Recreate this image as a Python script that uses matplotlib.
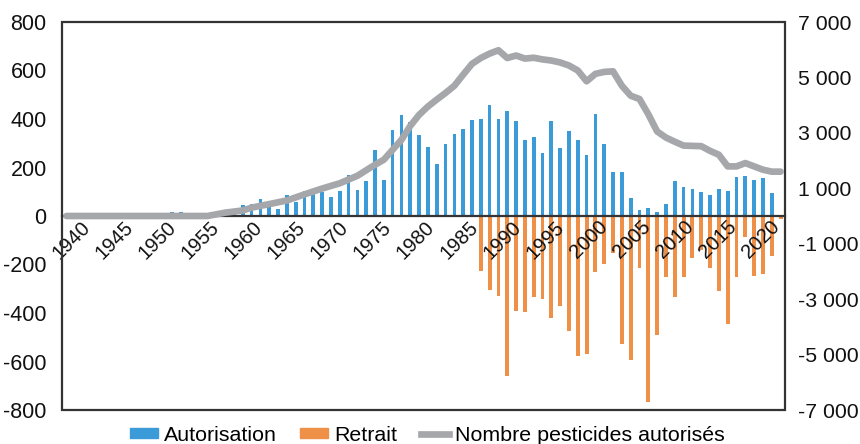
import matplotlib
matplotlib.use("Agg")
import matplotlib.pyplot as plt
from matplotlib.patches import Rectangle, Patch
from matplotlib.lines import Line2D
import numpy as np

plt.rcParams['font.family'] = ['Liberation Sans', 'DejaVu Sans']

years = list(range(1939, 2021))

autorisation = {
    1951: 17, 1952: 17, 1957: 8, 1958: 20, 1959: 44, 1960: 51, 1961: 69, 1962: 37, 1963: 30,
    1964: 86, 1965: 58, 1966: 104, 1967: 113, 1968: 100, 1969: 79, 1970: 104, 1971: 171,
    1972: 109, 1973: 144, 1974: 272, 1975: 148, 1976: 353, 1977: 415, 1978: 387, 1979: 332,
    1980: 286, 1981: 216, 1982: 297, 1983: 337, 1984: 359, 1985: 396, 1986: 402, 1987: 457,
    1988: 402, 1989: 431, 1990: 393, 1991: 314, 1992: 324, 1993: 259, 1994: 393, 1995: 279,
    1996: 349, 1997: 314, 1998: 252, 1999: 422, 2000: 297, 2001: 183, 2002: 183, 2003: 75,
    2004: 24, 2005: 34, 2006: 17, 2007: 51, 2008: 144, 2009: 120, 2010: 111, 2011: 100,
    2012: 86, 2013: 113, 2014: 104, 2015: 159, 2016: 166, 2017: 148, 2018: 155, 2019: 93,
}

retrait = {
    1980: -5, 1983: -5,
    1986: -225, 1987: -304, 1988: -329, 1989: -661, 1990: -391, 1991: -395, 1992: -333,
    1993: -343, 1994: -419, 1995: -373, 1996: -474, 1997: -578, 1998: -571, 1999: -232,
    2000: -198, 2001: -152, 2002: -526, 2003: -595, 2004: -214, 2005: -765, 2006: -492,
    2007: -253, 2008: -333, 2009: -253, 2010: -174, 2011: -140, 2012: -214, 2013: -311,
    2014: -447, 2015: -253, 2016: -87, 2017: -246, 2018: -239, 2019: -163, 2020: -14,
}

nombre = {
    1939: 0, 1955: 0, 1957: 120, 1959: 200, 1960: 300, 1962: 430, 1964: 560, 1966: 780,
    1968: 990, 1970: 1180, 1972: 1450, 1974: 1850, 1975: 2030, 1976: 2390, 1977: 2750,
    1978: 3250, 1979: 3650, 1980: 3950, 1981: 4200, 1982: 4440, 1983: 4700, 1984: 5100,
    1985: 5490, 1986: 5700, 1987: 5860, 1988: 5980, 1989: 5700, 1990: 5790, 1991: 5680,
    1992: 5710, 1993: 5650, 1994: 5610, 1995: 5540, 1996: 5430, 1997: 5250, 1998: 4860,
    1999: 5130, 2000: 5200, 2001: 5220, 2002: 4700, 2003: 4340, 2004: 4220, 2005: 3670,
    2006: 3050, 2007: 2830, 2008: 2680, 2009: 2540, 2010: 2530, 2011: 2520, 2012: 2350,
    2013: 2210, 2014: 1790, 2015: 1790, 2016: 1910, 2017: 1790, 2018: 1670, 2019: 1600,
    2020: 1600,
}

tick_years = list(range(1940, 2021, 5))
left_ticks = list(range(-800, 801, 200))
right_ticks = list(range(-7000, 7001, 2000))

blue = '#3b9ad8'
orange = '#ee9048'
grey = '#a5a7aa'

fig = plt.figure(figsize=(8.6, 4.44), dpi=100)
ax = fig.add_axes([62 / 860, 1 - 410 / 444, (785 - 62) / 860, (410 - 22) / 444])

a_vals = [autorisation.get(y, 0) for y in years]
r_vals = [retrait.get(y, 0) for y in years]
ax.bar(years, a_vals, width=0.42, color=blue, zorder=1)
ax.bar(years, r_vals, width=0.44, color=orange, zorder=1)
ax.set_ylim(-800, 800)
ax.set_xlim(years[0] - 0.5, years[-1] + 0.5)
ax.set_yticks(left_ticks)
ax.set_yticklabels([str(v) for v in left_ticks])
ax.tick_params(axis='y', length=0, labelsize=15.5, pad=11, colors='#111111')
ax.spines['bottom'].set_position(('data', 0))
for s in ['top', 'right', 'left']:
    ax.spines[s].set_visible(False)
ax.spines['bottom'].set_linewidth(1.6)
ax.spines['bottom'].set_color('#333333')
ax.spines['bottom'].set_zorder(3)

# label positions of the (redrawn) year axis, slightly compressed vs. the bar grid
label_pos = [years[1] + 0.55 + (y - tick_years[0]) * 0.978 for y in tick_years]
ax.set_xticks(label_pos)
ax.set_xticklabels([str(y) for y in tick_years], rotation=45, ha='right', rotation_mode='anchor')
ax.tick_params(axis='x', length=0, labelsize=14.5, pad=1, colors='#111111')
ax.xaxis.set_zorder(4)
ax.add_patch(Rectangle((0, 0), 1, 1, transform=ax.transAxes, fill=False, lw=1.6,
                       edgecolor='#333333', clip_on=False, zorder=5))

ax2 = ax.twinx()
ny = sorted(nombre)
ax2.plot(ny, [nombre[y] for y in ny], color=grey, lw=4.8, solid_capstyle='round',
         solid_joinstyle='round', zorder=3)
ax2.set_ylim(-7000, 7000)
ax2.set_yticks(right_ticks)
ax2.set_yticklabels([f"{v:,}".replace(',', ' ') for v in right_ticks])
ax2.tick_params(axis='y', length=0, labelsize=15.3, pad=9, colors='#111111')
for s in ax2.spines.values():
    s.set_visible(False)

handles = [Patch(color=blue), Patch(color=orange), Line2D([0], [0], color=grey, lw=4.8)]
fig.legend(handles, ['Autorisation', 'Retrait', 'Nombre pesticides autorisés'],
           loc='lower center', bbox_to_anchor=(0.497, -0.035), ncol=3, frameon=False,
           fontsize=15.4, handlelength=1.3, handleheight=0.4, columnspacing=1.1,
           handletextpad=0.3, borderpad=0.2)

fig.savefig('out.png', dpi=100)
